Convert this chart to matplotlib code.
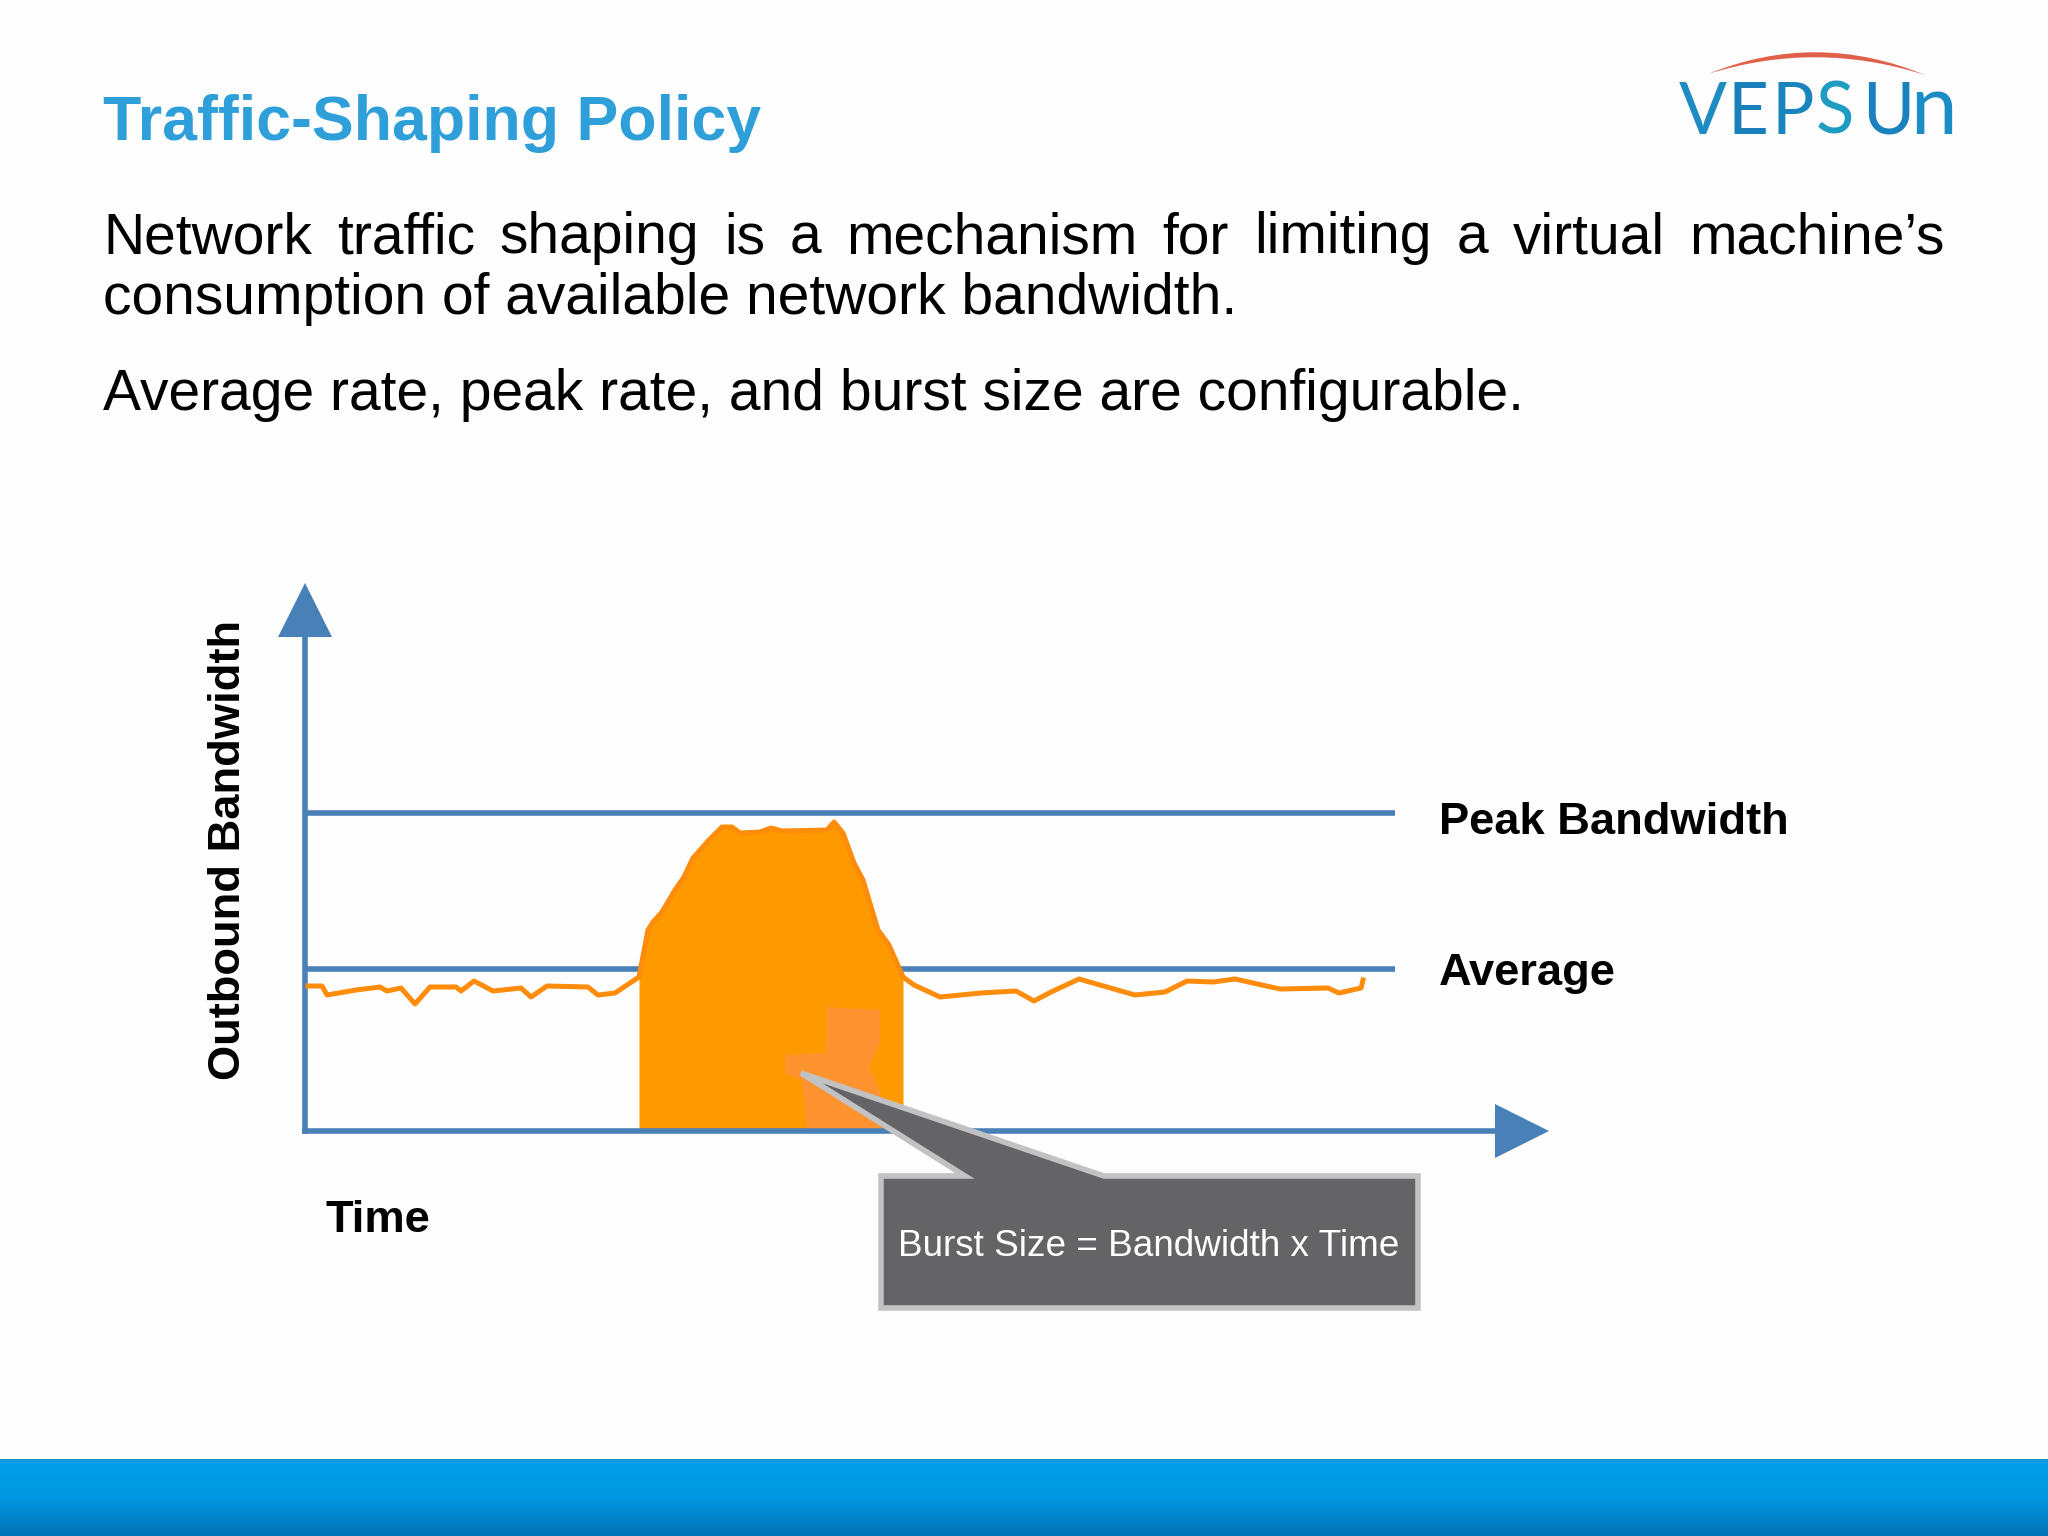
import matplotlib
matplotlib.use("Agg")
import matplotlib.pyplot as plt
import numpy as np
from matplotlib.patches import PathPatch, Polygon
from matplotlib.path import Path

plt.rcParams["font.family"] = ["Liberation Sans", "DejaVu Sans"]

W, H = 2048, 1536
DPI = 100

# outbound traffic, x = time, y = bandwidth (both in arbitrary units)
before_t = [3, 17, 22, 51, 75, 82, 96, 110, 125, 151, 156, 169, 188, 216, 226, 242, 283, 293, 310, 334]
before_bw = [145, 145, 136, 141, 144, 140, 143, 127, 144, 144, 140, 150, 140, 143, 134, 145, 144, 136, 138, 154]
burst_t = [334, 343, 348, 357, 370, 379, 388, 404, 417, 427, 435, 455, 466, 477, 522, 529, 538, 549, 558, 573, 584, 598]
burst_bw = [154, 201, 209, 219, 241, 254, 273, 291, 304, 304, 298, 299, 303, 300, 301, 309, 298, 268, 251, 201, 186, 154]
after_t = [598, 609, 635, 676, 711, 729, 746, 774, 830, 860, 882, 908, 930, 975, 1023, 1034, 1056, 1058]
after_bw = [154, 146, 134, 138, 140, 130, 139, 152, 136, 139, 150, 149, 152, 142, 143, 138, 143, 151]

peak_bw = 318
average_bw = 162
limit_end = 1090

# lighter smudge inside the burst
smudge_t = [522, 575, 575, 564, 573, 587, 502, 497, 480, 480, 520, 522]
smudge_bw = [124, 121, 88, 64, 44, 1, 1, 51, 58, 76, 78, 98]

# callout outline
callout_t = [576, 660, 496, 799, 1113, 1113, 576]
callout_bw = [-45, -45, 58, -45, -45, -177, -177]

# logo letters: text, left edge, colour, size
logo_letters = ["V", "E", "P", "S", "U", "n"]
logo_left = [1679, 1727, 1771, 1816, 1862, 1910]
logo_colors = ["#1C8CC2", "#1A80BC", "#1A84BE", "#1E9CC4", "#1A80BE", "#1C8CC4"]
logo_sizes = [51, 51, 51, 51, 51, 60]

BLUE = "#4A80B8"
ORANGE = "#FF9900"
ORANGE_LINE = "#FF8C0A"

fig = plt.figure(figsize=(W / DPI, H / DPI), dpi=DPI, facecolor="#FEFEFE")

# footer band
band = fig.add_axes([0, 0, 1, (H - 1459) / H])
band_cmap = matplotlib.colors.LinearSegmentedColormap.from_list("band", ["#009FEA", "#0098E0", "#0074B6"])
band.imshow(np.linspace(0, 1, 77).reshape(-1, 1), aspect="auto", cmap=band_cmap)
band.axhline(-0.5, color="#1E94CE", lw=2)
band.axis("off")

# chart
ax = fig.add_axes([305 / W, (H - 1131) / H, 1217 / W, 521 / H])
ax.set_xlim(0, 1217)
ax.set_ylim(0, 521)
ax.patch.set_alpha(0)
ax.set_xticks([])
ax.set_yticks([])
for side in ["top", "right"]:
    ax.spines[side].set_visible(False)
for side in ["left", "bottom"]:
    ax.spines[side].set_color(BLUE)
    ax.spines[side].set_linewidth(4)

ax.plot([1], [0], marker=">", ms=39, color=BLUE, mew=0, transform=ax.transAxes, clip_on=False, zorder=6)
ax.plot([0], [1], marker="^", ms=39, color=BLUE, mew=0, transform=ax.transAxes, clip_on=False, zorder=6)

ax.plot([0, limit_end], [peak_bw, peak_bw], color=BLUE, lw=4, solid_capstyle="butt", zorder=1)
ax.plot([0, limit_end], [average_bw, average_bw], color=BLUE, lw=4, solid_capstyle="butt", zorder=1)

ax.fill_between(burst_t, burst_bw, 0, color=ORANGE, lw=0, zorder=2)
ax.add_patch(Polygon(np.column_stack([smudge_t, smudge_bw]), closed=True, fc="#FF9330", ec="none", zorder=2.5))
ax.plot(before_t + burst_t + after_t, before_bw + burst_bw + after_bw, color=ORANGE_LINE, lw=3.6, solid_joinstyle="round", zorder=3)

ax.add_patch(Polygon(np.column_stack([callout_t, callout_bw]), closed=True, fc="#646366", ec="#C2C2C4", lw=4, joinstyle="miter", clip_on=False, zorder=7))
ax.text(844, -116, "Burst Size = Bandwidth x Time", color="white", fontsize=26.6, ha="center", va="center", zorder=8)

fig.text(229 / W, 1 - 850 / H, "Outbound Bandwidth", rotation=90, fontsize=32.6, fontweight="bold", ha="center", va="center")
fig.text(1439 / W, 1 - 823 / H, "Peak Bandwidth", fontsize=32.6, fontweight="bold", va="center")
fig.text(1439 / W, 1 - 973 / H, "Average", fontsize=32.6, fontweight="bold", va="center")
fig.text(325 / W, 1 - 1220 / H, "Time", fontsize=32.6, fontweight="bold", va="center")

# heading and body text
fig.text(103 / W, 1 - 140 / H, "Traffic-Shaping Policy", color="#2E9FD9", fontsize=45.1, fontweight="bold", va="baseline")

BODY_SIZE = 41
left, right = 103, 1945
words = "Network traffic shaping is a mechanism for limiting a virtual machine’s".split()
labels = [fig.text(0, 1 - 253 / H, w, fontsize=BODY_SIZE, va="baseline") for w in words]
renderer = fig.canvas.get_renderer()
widths = [t.get_window_extent(renderer).width for t in labels]
gap = (right - left - sum(widths)) / (len(words) - 1)
x = left
for t, w in zip(labels, widths):
    t.set_x(x / W)
    x += w + gap
fig.text(left / W, 1 - 314 / H, "consumption of available network bandwidth.", fontsize=BODY_SIZE, va="baseline")
fig.text(left / W, 1 - 410 / H, "Average rate, peak rate, and burst size are configurable.", fontsize=BODY_SIZE, va="baseline")

# logo
for letter, lx, color, size in zip(logo_letters, logo_left, logo_colors, logo_sizes):
    fig.text(lx / W, 1 - 134 / H, letter, color=color, fontsize=size, family="Lato", va="baseline")
arc = Path(
    [(1708, 74), (1816, 30), (1925, 75), (1816, 40), (1708, 74)],
    [Path.MOVETO, Path.CURVE3, Path.CURVE3, Path.CURVE3, Path.CURVE3],
)
fig.add_artist(PathPatch(arc, fc="#E0604A", ec="none", transform=matplotlib.transforms.Affine2D().scale(1 / W, -1 / H).translate(0, 1) + fig.transFigure))

fig.savefig("out.png", dpi=DPI, facecolor=fig.get_facecolor())
